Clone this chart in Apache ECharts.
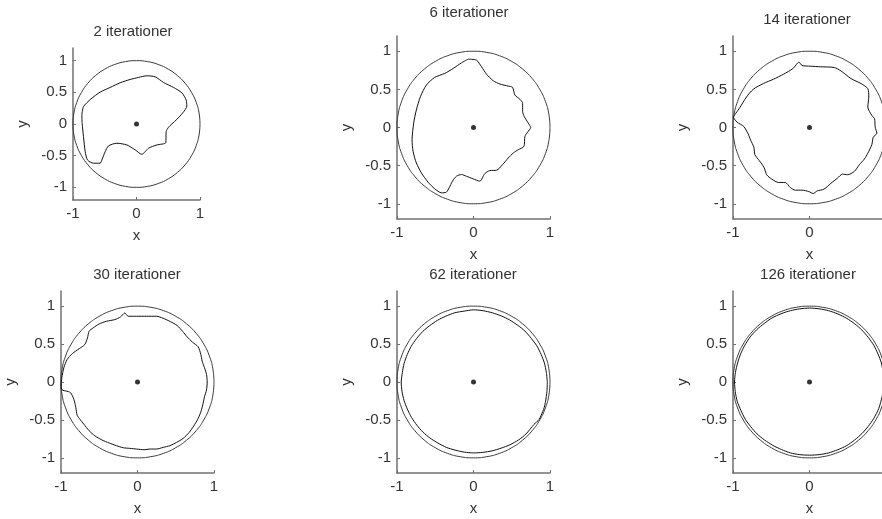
<!DOCTYPE html>
<html>
<head>
<meta charset="utf-8">
<script src="https://cdn.jsdelivr.net/npm/echarts@6/dist/echarts.min.js"></script>
<style>
html,body{margin:0;padding:0;background:#fff;}
#chart{width:882px;height:519px;}
</style>
</head>
<body>
<div id="chart"></div>
<script>
// ---------- DATA ----------
const titles = ['2 iterationer','6 iterationer','14 iterationer','30 iterationer','62 iterationer','126 iterationer'];
const xTicks = [-1, 0, 1];
const yTicks = [-1, -0.5, 0, 0.5, 1];
const xLabelText = 'x';
const yLabelText = 'y';

// unit circle (every 10 degrees)
const circleX = [1,0.985,0.940,0.866,0.766,0.643,0.5,0.342,0.174,0,-0.174,-0.342,-0.5,-0.643,-0.766,-0.866,-0.940,-0.985,-1,-0.985,-0.940,-0.866,-0.766,-0.643,-0.5,-0.342,-0.174,0,0.174,0.342,0.5,0.643,0.766,0.866,0.940,0.985,1];
const circleY = [0,0.174,0.342,0.5,0.643,0.766,0.866,0.940,0.985,1,0.985,0.940,0.866,0.766,0.643,0.5,0.342,0.174,0,-0.174,-0.342,-0.5,-0.643,-0.766,-0.866,-0.940,-0.985,-1,-0.985,-0.940,-0.866,-0.766,-0.643,-0.5,-0.342,-0.174,0];

const centerPoint = [[0, 0]];

const curve2 = [[-0.861,0.142],[-0.835,0.273],[-0.719,0.394],[-0.572,0.504],[-0.415,0.577],[-0.257,0.651],[-0.100,0.703],[0.031,0.735],[0.163,0.761],[0.294,0.745],[0.425,0.656],[0.583,0.577],[0.714,0.493],[0.782,0.378],[0.793,0.283],[0.730,0.178],[0.635,0.073],[0.556,0.000],[0.504,-0.052],[0.467,-0.121],[0.462,-0.294],[0.320,-0.331],[0.189,-0.383],[0.084,-0.478],[-0.021,-0.409],[-0.152,-0.331],[-0.310,-0.304],[-0.441,-0.346],[-0.493,-0.436],[-0.546,-0.567],[-0.572,-0.619],[-0.677,-0.619],[-0.772,-0.567],[-0.808,-0.436],[-0.835,-0.199],[-0.856,0.010],[-0.861,0.142]];

const curve6 = [[-0.070,0.896],[0.039,0.883],[0.105,0.796],[0.170,0.700],[0.258,0.613],[0.345,0.570],[0.454,0.543],[0.511,0.526],[0.541,0.426],[0.607,0.370],[0.642,0.317],[0.642,0.209],[0.664,0.143],[0.716,0.057],[0.747,0.000],[0.707,-0.061],[0.672,-0.117],[0.659,-0.248],[0.585,-0.291],[0.520,-0.335],[0.454,-0.400],[0.380,-0.487],[0.301,-0.561],[0.214,-0.565],[0.148,-0.604],[0.083,-0.704],[-0.004,-0.674],[-0.092,-0.639],[-0.157,-0.617],[-0.223,-0.639],[-0.275,-0.704],[-0.319,-0.791],[-0.354,-0.848],[-0.419,-0.857],[-0.507,-0.804],[-0.594,-0.717],[-0.681,-0.596],[-0.747,-0.465],[-0.790,-0.313],[-0.803,-0.161],[-0.782,0.057],[-0.747,0.230],[-0.694,0.404],[-0.616,0.557],[-0.507,0.657],[-0.376,0.709],[-0.266,0.774],[-0.157,0.848],[-0.070,0.896]];

const curve14 = [[-1.000,0.136],[-0.912,0.259],[-0.824,0.400],[-0.736,0.501],[-0.604,0.576],[-0.471,0.633],[-0.339,0.699],[-0.216,0.774],[-0.137,0.857],[-0.097,0.813],[0.013,0.804],[0.145,0.796],[0.322,0.787],[0.410,0.743],[0.542,0.642],[0.674,0.576],[0.762,0.510],[0.775,0.400],[0.762,0.268],[0.815,0.158],[0.850,0.114],[0.859,0.004],[0.881,-0.075],[0.833,-0.127],[0.815,-0.224],[0.762,-0.338],[0.718,-0.413],[0.652,-0.488],[0.586,-0.576],[0.498,-0.620],[0.432,-0.611],[0.366,-0.664],[0.278,-0.734],[0.189,-0.809],[0.101,-0.831],[0.048,-0.866],[-0.009,-0.840],[-0.097,-0.822],[-0.185,-0.822],[-0.251,-0.787],[-0.317,-0.721],[-0.405,-0.721],[-0.493,-0.677],[-0.559,-0.620],[-0.595,-0.523],[-0.656,-0.435],[-0.714,-0.356],[-0.727,-0.259],[-0.771,-0.163],[-0.802,-0.084],[-0.859,0.013],[-0.947,0.070],[-1.000,0.136]];

const curve30 = [[-0.998,-0.018],[-0.989,0.057],[-0.963,0.188],[-0.919,0.298],[-0.850,0.376],[-0.763,0.438],[-0.688,0.495],[-0.654,0.582],[-0.632,0.670],[-0.580,0.713],[-0.501,0.766],[-0.405,0.801],[-0.296,0.823],[-0.222,0.858],[-0.166,0.910],[-0.122,0.867],[-0.013,0.867],[0.118,0.867],[0.248,0.867],[0.336,0.840],[0.431,0.796],[0.519,0.744],[0.588,0.670],[0.649,0.595],[0.719,0.525],[0.793,0.464],[0.828,0.363],[0.845,0.276],[0.876,0.188],[0.902,0.101],[0.911,0.000],[0.902,-0.105],[0.876,-0.193],[0.858,-0.280],[0.832,-0.381],[0.793,-0.481],[0.736,-0.578],[0.675,-0.665],[0.597,-0.744],[0.510,-0.797],[0.423,-0.840],[0.336,-0.862],[0.248,-0.884],[0.161,-0.884],[0.087,-0.893],[-0.013,-0.884],[-0.100,-0.875],[-0.187,-0.867],[-0.275,-0.840],[-0.370,-0.805],[-0.471,-0.761],[-0.558,-0.709],[-0.632,-0.643],[-0.702,-0.556],[-0.754,-0.490],[-0.789,-0.438],[-0.806,-0.337],[-0.832,-0.228],[-0.876,-0.140],[-0.937,-0.118],[-0.980,-0.109],[-0.998,-0.074],[-0.998,-0.018]];

const curve62 = [[0.965,0.000],[0.952,0.128],[0.927,0.249],[0.885,0.362],[0.827,0.478],[0.755,0.575],[0.672,0.672],[0.578,0.748],[0.473,0.818],[0.362,0.872],[0.245,0.913],[0.125,0.940],[0.000,0.952],[-0.121,0.935],[-0.245,0.913],[-0.362,0.868],[-0.470,0.814],[-0.574,0.742],[-0.665,0.665],[-0.744,0.573],[-0.814,0.470],[-0.866,0.362],[-0.908,0.243],[-0.930,0.124],[-0.945,0.000],[-0.935,-0.122],[-0.908,-0.243],[-0.865,-0.357],[-0.810,-0.468],[-0.740,-0.570],[-0.661,-0.661],[-0.570,-0.738],[-0.465,-0.805],[-0.356,-0.862],[-0.241,-0.898],[-0.120,-0.925],[0.000,-0.935],[0.122,-0.928],[0.243,-0.908],[0.362,-0.872],[0.478,-0.827],[0.588,-0.765],[0.686,-0.686],[0.790,-0.560],[0.857,-0.495],[0.905,-0.390],[0.925,-0.335],[0.942,-0.252],[0.960,-0.125],[0.965,0.000]];

const curve126 = [[0.970,0.000],[0.962,0.127],[0.940,0.250],[0.895,0.370],[0.840,0.485],[0.768,0.588],[0.685,0.685],[0.590,0.768],[0.485,0.840],[0.372,0.897],[0.250,0.940],[0.127,0.965],[0.000,0.975],[-0.127,0.965],[-0.250,0.940],[-0.372,0.900],[-0.490,0.845],[-0.592,0.772],[-0.690,0.690],[-0.775,0.595],[-0.845,0.485],[-0.900,0.372],[-0.940,0.250],[-0.968,0.127],[-0.980,0.000],[-0.970,-0.128],[-0.945,-0.255],[-0.898,-0.372],[-0.840,-0.490],[-0.768,-0.590],[-0.685,-0.685],[-0.588,-0.765],[-0.480,-0.835],[-0.368,-0.890],[-0.250,-0.935],[-0.126,-0.958],[0.000,-0.965],[0.126,-0.958],[0.250,-0.935],[0.370,-0.893],[0.485,-0.840],[0.590,-0.765],[0.685,-0.680],[0.768,-0.585],[0.840,-0.480],[0.905,-0.350],[0.950,-0.190],[0.968,-0.090],[0.970,0.000]];

const curves = [curve2, curve6, curve14, curve30, curve62, curve126];

// ---------- LAYOUT ----------
const grids = [
  {left:73, top:48, width:127, height:152},
  {left:397, top:36, width:153, height:183},
  {left:733, top:36, width:153, height:183},
  {left:61, top:291, width:153, height:182},
  {left:397, top:291, width:153, height:182},
  {left:733, top:291, width:153, height:182}
].map(g => Object.assign({outerBoundsMode:'none', containLabel:false}, g));
const titlePos = [[133,32],[469,13],[807,20],[137,275],[473,275],[808,275]];
const FONT = '"Liberation Sans", Arial, sans-serif';
const TXT = '#333';
const AX = '#707070';

const circleData = circleX.map((x,i)=>[x, circleY[i]]);

const xAxes = [], yAxes = [], series = [];
grids.forEach((g,i)=>{
  xAxes.push({
    gridIndex:i, type:'value', min:-1, max:1,
    name:xLabelText, nameLocation:'middle', nameGap:28,
    nameTextStyle:{color:TXT, fontSize:15, fontFamily:FONT},
    axisLine:{show:true, onZero:false, lineStyle:{color:AX, width:1.5}},
    axisTick:{show:true, inside:true, length:3, customValues:xTicks, lineStyle:{color:AX}},
    axisLabel:{customValues:xTicks, color:TXT, fontSize:15, fontFamily:FONT, margin:6, hideOverlap:false},
    splitLine:{show:false}
  });
  yAxes.push({
    gridIndex:i, type:'value', min:-1.2, max:1.2,
    name:yLabelText, nameLocation:'middle', nameGap:43, nameRotate:90,
    nameTextStyle:{color:TXT, fontSize:15, fontFamily:FONT},
    axisLine:{show:true, onZero:false, lineStyle:{color:AX, width:1.5}},
    axisTick:{show:true, inside:true, length:3, customValues:yTicks, lineStyle:{color:AX}},
    axisLabel:{customValues:yTicks, color:TXT, fontSize:15, fontFamily:FONT, margin:6},
    splitLine:{show:false}
  });
  series.push({
    type:'line', xAxisIndex:i, yAxisIndex:i, data:circleData, smooth:true,
    showSymbol:false, lineStyle:{color:'#3a3a3a', width:1}, silent:true
  });
  series.push({
    type:'line', xAxisIndex:i, yAxisIndex:i, data:curves[i], smooth:0.25,
    showSymbol:false, lineStyle:{color:'#111', width:1}, silent:true
  });
  series.push({
    type:'scatter', xAxisIndex:i, yAxisIndex:i, data:centerPoint,
    symbol:'circle', symbolSize:5, itemStyle:{color:'#000'}, silent:true
  });
});

const chart = echarts.init(document.getElementById('chart'), null, {renderer:'canvas'});
chart.setOption({
  animation:false,
  backgroundColor:'#fff',
  grid:grids,
  xAxis:xAxes,
  yAxis:yAxes,
  series:series,
  graphic:titles.map((t,i)=>({
    type:'text', x:titlePos[i][0], y:titlePos[i][1], silent:true,
    style:{text:t, fill:TXT, font:'15px ' + FONT, textAlign:'center', textVerticalAlign:'middle'}
  }))
});
</script>
</body>
</html>
